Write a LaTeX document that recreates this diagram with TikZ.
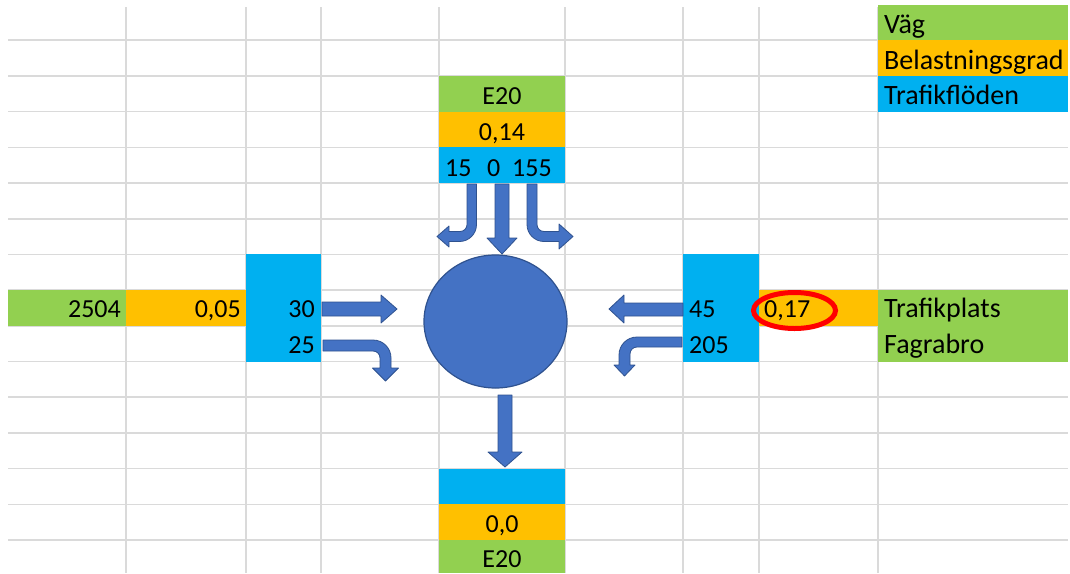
\documentclass[tikz,border=0pt]{standalone}
\usepackage{fontspec}
\setmainfont{Carlito}
\usetikzlibrary{shapes.geometric}
\definecolor{xgreen}{HTML}{92D050}
\definecolor{xorange}{HTML}{FFC000}
\definecolor{xblue}{HTML}{00B0F0}
\definecolor{arrfill}{HTML}{4472C4}
\definecolor{arrline}{HTML}{2F528F}
\definecolor{gridc}{HTML}{DADADA}
\definecolor{markred}{HTML}{FF0000}
\tikzset{
  gridline/.style={draw=gridc, line width=1.6pt},
  txt/.style={inner sep=0pt, font=\fontsize{26}{26}\selectfont, text=black},
  wordtxt/.style={inner sep=0pt, font=\fontsize{28}{28}\selectfont, text=black},
  blockarrow/.style={fill=arrfill, draw=arrline, line width=0.8pt, line join=round},
}
\begin{document}
\begin{tikzpicture}[x=1pt, y=-1pt]
\useasboundingbox (0,0) rectangle (1070,573);
\fill[white] (0,0) rectangle (1070,573);
% grid
\foreach \yy in {40.2,75.9,111.6,147.3,183,218.7,254.4,290.1,325.8,361.5,397.2,432.9,468.6,504.3,540.0}
  \draw[gridline] (8,\yy) -- (1068,\yy);
\foreach \xx in {126,246,321,439,565,683,759,878}
  \draw[gridline] (\xx,7) -- (\xx,573);
% legend cells
\fill[xgreen] (878,4.5) rectangle (1068,40.2);
\fill[xorange] (878,40.2) rectangle (1068,75.9);
\fill[xblue] (878,75.9) rectangle (1068,111.6);
% north
\fill[xgreen] (439,75.9) rectangle (565,111.6);
\fill[xorange] (439,111.6) rectangle (565,147.3);
\fill[xblue] (439,147.3) rectangle (565,183);
% west
\fill[xgreen] (8,290.1) rectangle (126,325.8);
\fill[xorange] (126,290.1) rectangle (246,325.8);
\fill[xblue] (246,254.4) rectangle (321,361.5);
% east
\fill[xblue] (683,254.4) rectangle (759,361.5);
\fill[xorange] (759,290.1) rectangle (878,325.8);
\fill[xgreen] (878,290.1) rectangle (1068,361.5);
% south
\fill[xblue] (439,468.6) rectangle (565,504.3);
\fill[xorange] (439,504.3) rectangle (565,540.0);
\fill[xgreen] (439,540.0) rectangle (565,573);
% texts
\node[wordtxt, anchor=base west] (lvag) at (884,33.5) {Väg};
\node[wordtxt, anchor=base west] (lbel) at (884,69.2) {Belastningsgrad};
\node[wordtxt, anchor=base west] (ltra) at (884,104.9) {Trafikflöden};
\node[txt, anchor=base] (nroad) at (502,104.9) {E20};
\node[txt, anchor=base] (nload) at (502,140.6) {0,14};
\node[txt, anchor=base west] (nleft) at (445,176.3) {15};
\node[txt, anchor=base west] (nstr) at (487,176.3) {0};
\node[txt, anchor=base west] (nright) at (512,176.3) {155};
\node[txt, anchor=base east] (wroad) at (121,317.8) {2504};
\node[txt, anchor=base east] (wload) at (241,317.8) {0,05};
\node[txt, anchor=base east] (wstr) at (315,317.8) {30};
\node[txt, anchor=base east] (wright) at (315,353.5) {25};
\node[txt, anchor=base west] (estr) at (689,317.8) {45};
\node[txt, anchor=base west] (eleft) at (689,353.5) {205};
\node[txt, anchor=base west] (eload) at (764,317.8) {0,17};
\node[wordtxt, anchor=base west] (eroad1) at (884,317.8) {Trafikplats};
\node[wordtxt, anchor=base west] (eroad2) at (884,353.5) {Fagrabro};
\node[txt, anchor=base] (sload) at (502,532.5) {0,0};
\node[txt, anchor=base] (sroad) at (502,567.5) {E20};
% red mark
\draw[markred, line width=5pt] (794.5,310.5) ellipse [x radius=41, y radius=18];
% roundabout
\node[ellipse, fill=arrfill, draw=arrline, line width=1.2pt, minimum width=143pt, minimum height=133pt, inner sep=0pt] (hub) at (495.5,321.5) {};
% arrows: north
\draw[blockarrow] (495,184) -- (495,238) -- (487,238) -- (502,254) -- (517,238) -- (509,238) -- (509,184) -- cycle;
\draw[blockarrow] (467,184) -- (467,224.5) .. controls (467,228.4) and (463.9,231.5) .. (460,231.5) -- (449,231.5) -- (449,226) -- (437,236.5) -- (449,247) -- (449,241.5) -- (459.5,241.5) .. controls (468.9,241.5) and (476.5,233.9) .. (476.5,224.5) -- (476.5,184) -- cycle;
\draw[blockarrow] (537,184) -- (537,224.5) .. controls (537,228.4) and (540.1,231.5) .. (544,231.5) -- (559,231.5) -- (559,224) -- (573,236.5) -- (559,249) -- (559,241.5) -- (544,241.5) .. controls (534.6,241.5) and (527,233.9) .. (527,224.5) -- (527,184) -- cycle;
% west
\draw[blockarrow] (322,302) -- (381,302) -- (381,295) -- (397,309) -- (381,323) -- (381,316) -- (322,316) -- cycle;
\draw[blockarrow] (323,340) -- (373,340) .. controls (383,340) and (391,348) .. (391,358) -- (391,368) -- (398.5,368) -- (385.5,381) -- (372.5,368) -- (380,368) -- (380,358) .. controls (380,354.1) and (376.9,351) .. (373,351) -- (323,351) -- cycle;
% east
\draw[blockarrow] (683,303) -- (624,303) -- (624,295) -- (609,309) -- (624,323) -- (624,316) -- (683,316) -- cycle;
\draw[blockarrow] (682,337) -- (637,337) .. controls (627,337) and (619,345) .. (619,355) -- (619,365) -- (614,365) -- (624.5,376) -- (635,365) -- (630,365) -- (630,354) .. controls (630,350.1) and (633.1,347) .. (637,347) -- (682,347) -- cycle;
% south
\draw[blockarrow] (498,395) -- (498,452) -- (488,452) -- (505,467) -- (522,452) -- (512,452) -- (512,395) -- cycle;
\end{tikzpicture}
\end{document}
